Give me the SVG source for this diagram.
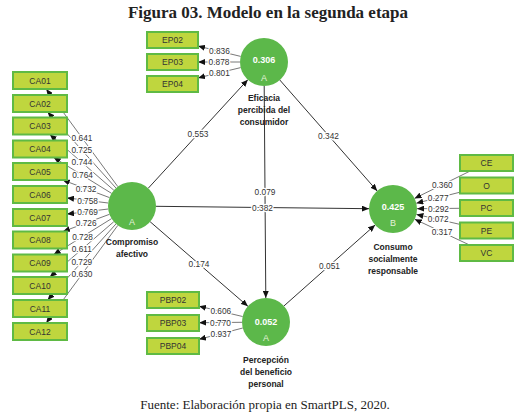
<svg xmlns="http://www.w3.org/2000/svg" width="525" height="416" viewBox="0 0 525 416">
<defs>
<marker id="ah" markerUnits="userSpaceOnUse" markerWidth="8" markerHeight="6" refX="7" refY="3" orient="auto">
<path d="M0,0 L7,3 L0,6 z" fill="#111"/>
</marker>
<style>
.box{fill:#bfd63e;stroke:#5fba44;stroke-width:2}
.bt{font-family:"Liberation Sans",Arial,sans-serif;font-size:8.5px;fill:#333;text-anchor:middle}
.lv{fill:#5cb84a}
.val{font-family:"Liberation Sans",Arial,sans-serif;font-size:9px;font-weight:bold;fill:#fff;text-anchor:middle}
.let{font-family:"Liberation Sans",Arial,sans-serif;font-size:9px;fill:#e4f2dc;text-anchor:middle}
.nm{font-family:"Liberation Sans",Arial,sans-serif;font-size:8.5px;font-weight:bold;fill:#222;text-anchor:middle}
.ln{stroke:#555;stroke-width:0.8;fill:none;marker-end:url(#ah)}
.sl{stroke:#333;stroke-width:1;fill:none;marker-end:url(#ah)}
.lb{font-family:"Liberation Sans",Arial,sans-serif;font-size:8.3px;fill:#333;text-anchor:middle;stroke:#fff;stroke-width:2.5;paint-order:stroke;stroke-linejoin:round}
.ti{font-family:"Liberation Serif","Times New Roman",serif;font-size:17px;font-weight:bold;fill:#222;text-anchor:middle}
.ca{font-family:"Liberation Serif","Times New Roman",serif;font-size:13px;fill:#222;text-anchor:middle}
</style>
</defs>
<rect width="525" height="416" fill="#fff"/>
<text class="ti" x="268" y="18">Figura 03. Modelo en la segunda etapa</text>
<text class="ca" x="265" y="409">Fuente: Elaboración propia en SmartPLS, 2020.</text>

<g id="connectors">
<line class="ln" x1="117.8" y1="186.6" x2="46.2" y2="89"/>
<line class="ln" x1="116" y1="188.1" x2="47.6" y2="112"/>
<line class="ln" x1="113.9" y1="190.3" x2="49.8" y2="134.5"/>
<line class="ln" x1="111.6" y1="193.4" x2="53.7" y2="157.5"/>
<line class="ln" x1="109.5" y1="197.6" x2="62.7" y2="180"/>
<line class="ln" x1="108.2" y1="203" x2="67" y2="197.9"/>
<line class="ln" x1="108.2" y1="209" x2="67" y2="214.1"/>
<line class="ln" x1="109.5" y1="214.3" x2="63" y2="231.5"/>
<line class="ln" x1="111.6" y1="218.6" x2="53.7" y2="254.5"/>
<line class="ln" x1="113.8" y1="221.7" x2="49.8" y2="277"/>
<line class="ln" x1="116" y1="223.9" x2="47.6" y2="300"/>
<line class="ln" x1="117.8" y1="225.4" x2="46.2" y2="323"/>
<line class="ln" x1="240.7" y1="56.4" x2="198" y2="46.1"/>
<line class="ln" x1="240" y1="62" x2="198" y2="62"/>
<line class="ln" x1="240.7" y1="67.6" x2="198" y2="77.9"/>
<line class="ln" x1="242.6" y1="316.5" x2="199" y2="306.2"/>
<line class="ln" x1="242" y1="322.3" x2="199" y2="322.7"/>
<line class="ln" x1="242.8" y1="328" x2="199" y2="339.3"/>
<line class="ln" x1="470.2" y1="171" x2="414.5" y2="198.4"/>
<line class="ln" x1="460" y1="192.2" x2="416.3" y2="203.2"/>
<line class="ln" x1="460" y1="208.3" x2="417" y2="208.7"/>
<line class="ln" x1="460" y1="224.4" x2="416.4" y2="214.4"/>
<line class="ln" x1="469.5" y1="245" x2="414.7" y2="219.2"/>
<line class="sl" x1="148.2" y1="188.3" x2="247.8" y2="79.7"/>
<line class="sl" x1="156" y1="206.3" x2="369" y2="208.7"/>
<line class="sl" x1="150.1" y1="221.7" x2="247.9" y2="306.3"/>
<line class="sl" x1="279.8" y1="80" x2="377.2" y2="191"/>
<line class="sl" x1="264.2" y1="86" x2="265.8" y2="298"/>
<line class="sl" x1="283.9" y1="306" x2="375.1" y2="225"/>
<text class="lb" x="82" y="140.8">0.641</text>
<text class="lb" x="81.8" y="153.1">0.725</text>
<text class="lb" x="81.9" y="165.4">0.744</text>
<text class="lb" x="82.6" y="178.4">0.764</text>
<text class="lb" x="86.1" y="191.8">0.732</text>
<text class="lb" x="87.6" y="203.5">0.758</text>
<text class="lb" x="87.6" y="214.5">0.769</text>
<text class="lb" x="86.2" y="225.9">0.726</text>
<text class="lb" x="82.6" y="239.6">0.728</text>
<text class="lb" x="81.8" y="252.3">0.611</text>
<text class="lb" x="81.8" y="264.9">0.729</text>
<text class="lb" x="82" y="277.2">0.630</text>
<text class="lb" x="219.4" y="54.2">0.836</text>
<text class="lb" x="219" y="65">0.878</text>
<text class="lb" x="219.4" y="75.7">0.801</text>
<text class="lb" x="220.8" y="314.3">0.606</text>
<text class="lb" x="220.5" y="325.5">0.770</text>
<text class="lb" x="220.9" y="336.6">0.937</text>
<text class="lb" x="442.3" y="187.7">0.360</text>
<text class="lb" x="438.2" y="200.7">0.277</text>
<text class="lb" x="438.5" y="211.5">0.292</text>
<text class="lb" x="438.2" y="222.4">0.072</text>
<text class="lb" x="442.1" y="235.1">0.317</text>
<text class="lb" x="198" y="137">0.553</text>
<text class="lb" x="262.5" y="210.5">0.382</text>
<text class="lb" x="199" y="267">0.174</text>
<text class="lb" x="328.5" y="138.5">0.342</text>
<text class="lb" x="265" y="195">0.079</text>
<text class="lb" x="329.5" y="268.5">0.051</text>
</g>

<g id="CA01"><rect class="box" x="13" y="72" width="54" height="17"/><text class="bt" x="40" y="83.5">CA01</text></g>
<g id="CA02"><rect class="box" x="13" y="95" width="54" height="17"/><text class="bt" x="40" y="106.5">CA02</text></g>
<g id="CA03"><rect class="box" x="13" y="117.5" width="54" height="17"/><text class="bt" x="40" y="129">CA03</text></g>
<g id="CA04"><rect class="box" x="13" y="140.5" width="54" height="17"/><text class="bt" x="40" y="152">CA04</text></g>
<g id="CA05"><rect class="box" x="13" y="163" width="54" height="17"/><text class="bt" x="40" y="174.5">CA05</text></g>
<g id="CA06"><rect class="box" x="13" y="186" width="54" height="17"/><text class="bt" x="40" y="197.5">CA06</text></g>
<g id="CA07"><rect class="box" x="13" y="209" width="54" height="17"/><text class="bt" x="40" y="220.5">CA07</text></g>
<g id="CA08"><rect class="box" x="13" y="231.5" width="54" height="17"/><text class="bt" x="40" y="243">CA08</text></g>
<g id="CA09"><rect class="box" x="13" y="254.5" width="54" height="17"/><text class="bt" x="40" y="266">CA09</text></g>
<g id="CA10"><rect class="box" x="13" y="277" width="54" height="17"/><text class="bt" x="40" y="288.5">CA10</text></g>
<g id="CA11"><rect class="box" x="13" y="300" width="54" height="17"/><text class="bt" x="40" y="311.5">CA11</text></g>
<g id="CA12"><rect class="box" x="13" y="323" width="54" height="17"/><text class="bt" x="40" y="334.5">CA12</text></g>

<g id="EP02"><rect class="box" x="147" y="32" width="51" height="16"/><text class="bt" x="172.5" y="43">EP02</text></g>
<g id="EP03"><rect class="box" x="147" y="54" width="51" height="16"/><text class="bt" x="172.5" y="65">EP03</text></g>
<g id="EP04"><rect class="box" x="147" y="76" width="51" height="16"/><text class="bt" x="172.5" y="87">EP04</text></g>

<g id="PBP02"><rect class="box" x="147" y="292" width="52" height="16"/><text class="bt" x="173" y="303">PBP02</text></g>
<g id="PBP03"><rect class="box" x="147" y="315" width="52" height="16"/><text class="bt" x="173" y="326">PBP03</text></g>
<g id="PBP04"><rect class="box" x="147" y="338" width="52" height="16"/><text class="bt" x="173" y="349">PBP04</text></g>

<g id="CE"><rect class="box" x="460" y="155" width="53" height="16"/><text class="bt" x="486.5" y="166">CE</text></g>
<g id="O"><rect class="box" x="460" y="177.5" width="53" height="16"/><text class="bt" x="486.5" y="188.5">O</text></g>
<g id="PC"><rect class="box" x="460" y="200" width="53" height="16"/><text class="bt" x="486.5" y="211">PC</text></g>
<g id="PE"><rect class="box" x="460" y="222.5" width="53" height="16"/><text class="bt" x="486.5" y="233.5">PE</text></g>
<g id="VC"><rect class="box" x="460" y="245" width="53" height="16"/><text class="bt" x="486.5" y="256">VC</text></g>

<g id="compromiso">
<circle class="lv" cx="132" cy="206" r="24"/>
<text class="let" x="132" y="225">A</text>
<text class="nm" x="132" y="245">Compromiso</text>
<text class="nm" x="132" y="257">afectivo</text>
</g>
<g id="eficacia">
<circle class="lv" cx="264" cy="62" r="24"/>
<text class="val" x="264" y="63">0.306</text>
<text class="let" x="264" y="81">A</text>
<text class="nm" x="264" y="101">Eficacia</text>
<text class="nm" x="264" y="113">percibida del</text>
<text class="nm" x="264" y="125">consumidor</text>
</g>
<g id="consumo">
<circle class="lv" cx="393" cy="209" r="24"/>
<text class="val" x="393" y="210">0.425</text>
<text class="let" x="393" y="226">B</text>
<text class="nm" x="393" y="250">Consumo</text>
<text class="nm" x="393" y="262">socialmente</text>
<text class="nm" x="393" y="274">responsable</text>
</g>
<g id="percepcion">
<circle class="lv" cx="266" cy="322" r="24"/>
<text class="val" x="266" y="325">0.052</text>
<text class="let" x="266" y="341">A</text>
<text class="nm" x="266" y="363">Percepción</text>
<text class="nm" x="266" y="375">del beneficio</text>
<text class="nm" x="266" y="387">personal</text>
</g>
</svg>
